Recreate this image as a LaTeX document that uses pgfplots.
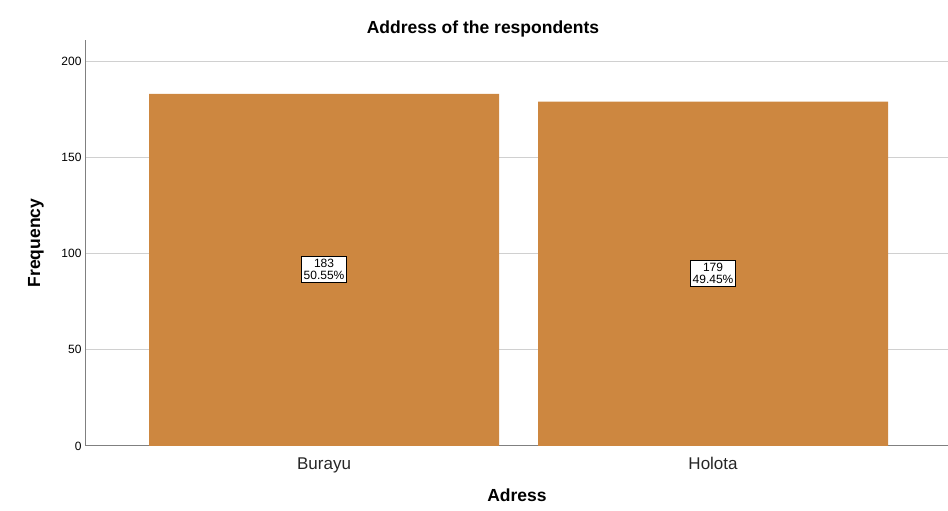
\documentclass[border=0pt]{standalone}
\usepackage{pgfplots}
\pgfplotsset{compat=1.18}
\usepackage{fontspec}
\setmainfont{Liberation Sans}
\definecolor{barc}{RGB}{205,135,64}
\definecolor{gridc}{RGB}{208,208,208}
\definecolor{axc}{RGB}{128,128,128}
\begin{document}
\begin{tikzpicture}
\begin{axis}[
name=ax,
scale only axis,
width=862pt, height=406pt,
xmin=-0.612, xmax=1.604,
ymin=0, ymax=211,
axis x line*=bottom, axis y line*=left,
axis line style={axc, line width=1pt, -},
xtick={0,1}, xticklabels={Burayu,Holota},
ytick={0,50,100,150,200},
major tick length=0pt,
ymajorgrids, grid style={gridc, line width=1pt},
xticklabel style={font=\fontsize{17}{19}\selectfont, text=black!85, yshift=-8pt},
yticklabel style={font=\fontsize{12}{14}\selectfont, text=black, xshift=-1pt},
/pgf/number format/assume math mode=true,
clip=false,
]
\addplot[ybar, bar width=0.9, fill=barc, draw=none] coordinates {(0,183) (1,179)};
\addplot[draw=none, mark=none, point meta=explicit symbolic,
  nodes near coords, nodes near coords align=center,
  every node near coord/.style={font=\fontsize{12}{11.5}\selectfont, fill=white, draw=black, line width=0.8pt, align=center, inner xsep=2pt, inner ysep=3pt, anchor=center}]
  coordinates {(0,91.7) [{183\\50.55\%}] (1,89.7) [{179\\49.45\%}]};
\node[font=\bfseries\fontsize{17.5}{19}\selectfont, yshift=11pt] at (rel axis cs:0.4606,1) {Address of the respondents};
\node[font=\bfseries\fontsize{17.5}{19}\selectfont, yshift=-49pt] at (rel axis cs:0.5,0) {Adress};
\node[font=\bfseries\fontsize{17.5}{19}\selectfont, xshift=-50pt, rotate=90] at (rel axis cs:0,0.5) {Frequency};
\end{axis}
\pgfresetboundingbox
\path (ax.south west) ++(-86pt,-65pt) rectangle ([yshift=40pt]ax.north east);
\end{tikzpicture}
\end{document}
